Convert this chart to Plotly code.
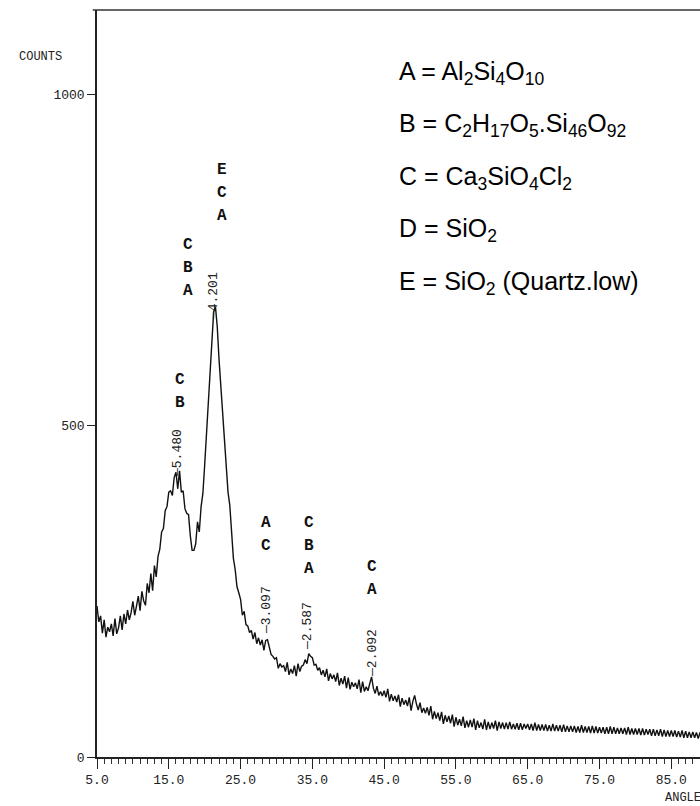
import plotly.graph_objects as go

# ---------------- data ----------------
angle_start = 5.0
angle_step = 0.25
counts = [
    228, 204, 213, 187,   # 5
    207, 181, 196, 189,   # 6
    201, 183, 209, 186,   # 7
    195, 213, 192, 216,   # 8
    201, 222, 207, 218,   # 9
    235, 214, 228, 243,   # 10
    221, 250, 236, 229,   # 11
    262, 248, 277, 251,   # 12
    289, 272, 303, 314,   # 13
    340, 345, 372, 378,   # 14
    400, 402, 395, 422,   # 15
    430, 405, 432, 400,   # 16
    402, 375, 368, 366,   # 17
    334, 312, 312, 322,   # 18
    355, 340, 378, 398,   # 19
    441, 491, 531, 581,   # 20
    630, 672, 680, 650,   # 21
    600, 560, 520, 470,   # 22
    430, 400, 380, 345,   # 23
    300, 283, 257, 248,   # 24
    238, 214, 220, 200,   # 25
    198, 188, 191, 178,   # 26
    188, 171, 180, 169,   # 27
    177, 161, 176, 177,   # 28
    163, 155, 152, 148,   # 29
    150, 134, 141, 136,   # 30
    138, 129, 143, 124,   # 31
    133, 126, 138, 122,   # 32
    141, 129, 137, 139,   # 33
    147, 141, 156, 152,   # 34
    150, 139, 140, 131,   # 35
    135, 124, 131, 121,   # 36
    133, 115, 126, 118,   # 37
    124, 114, 127, 108,   # 38
    119, 110, 122, 104,   # 39
    120, 102, 113, 106,   # 40
    112, 103, 117, 97,    # 41
    114, 99, 106, 100,    # 42
    111, 121, 104, 96,    # 43
    107, 93, 99, 92,      # 44
    100, 90, 103, 84,     # 45
    95, 85, 92, 83,       # 46
    94, 76, 89, 79,       # 47
    86, 77, 90, 70,       # 48
    84, 93, 80, 71,       # 49
    82, 67, 74, 66,       # 50
    75, 63, 77, 57,       # 51
    69, 58, 67, 55,       # 52
    68, 50, 63, 53,       # 53
    62, 51, 64, 46,       # 54
    60, 48, 57, 47,       # 55
    61, 44, 55, 45,       # 56
    56, 45, 58, 41,       # 57
    55, 44, 52, 42,       # 58
    57, 41, 53, 42,       # 59
    52, 43, 55, 40,       # 60
    53, 43, 52, 42,       # 61
    52, 42, 53, 42,       # 62
    50, 42, 51, 41,       # 63
    51, 41, 50, 43,       # 64
    50, 41, 50, 40,       # 65
    52, 40, 49, 40,       # 66
    49, 40, 49, 39,       # 67
    48, 39, 50, 39,       # 68
    48, 39, 48, 38,       # 69
    49, 38, 47, 38,       # 70
    47, 38, 47, 37,       # 71
    46, 37, 48, 37,       # 72
    46, 37, 46, 36,       # 73
    47, 36, 46, 36,       # 74
    45, 36, 45, 35,       # 75
    45, 35, 46, 35,       # 76
    45, 35, 44, 35,       # 77
    44, 35, 44, 34,       # 78
    45, 34, 43, 34,       # 79
    43, 34, 43, 33,       # 80
    43, 33, 42, 34,       # 81
    42, 32, 42, 32,       # 82
    41, 32, 42, 31,       # 83
    41, 31, 40, 31,       # 84
    40, 31, 40, 30,       # 85
    39, 30, 40, 29,       # 86
    39, 29, 38, 29,       # 87
    38, 29, 37, 28,       # 88
    37, 28, 36, 27,       # 89
]
angles = [angle_start + i * angle_step for i in range(len(counts))]

x_tick_vals = [5, 15, 25, 35, 45, 55, 65, 75, 85]
x_tick_text = ["5.0", "15.0", "25.0", "35.0", "45.0", "55.0", "65.0", "75.0", "85.0"]
y_tick_vals = [0, 500, 1000]
y_tick_text = ["0", "500", "1000"]

# d-spacing labels at peaks
d_labels = ["5.480", "4.201", "3.097", "2.587", "2.092"]
d_angles = [16.14, 21.16, 28.7, 34.4, 43.3]
d_label_counts = [459, 696, 222, 198, 157]

# phase letters over peaks
phase_groups = ["CB", "CBA", "ECA", "AC", "CBA", "CA"]
phase_angles = [16.6, 17.7, 22.4, 28.5, 34.5, 43.3]
phase_top_counts = [570, 773, 887, 353, 353, 287]

legend_lines = [
    "A = Al<sub>2</sub>Si<sub>4</sub>O<sub>10</sub>",
    "B = C<sub>2</sub>H<sub>17</sub>O<sub>5</sub>.Si<sub>46</sub>O<sub>92</sub>",
    "C = Ca<sub>3</sub>SiO<sub>4</sub>Cl<sub>2</sub>",
    "D = SiO<sub>2</sub>",
    "E = SiO<sub>2</sub> (Quartz.low)",
]

# ---------------- figure ----------------
fig = go.Figure()
fig.add_trace(go.Scatter(x=angles, y=counts, mode="lines",
                         line=dict(color="#111111", width=1.4),
                         showlegend=False, hoverinfo="skip"))

mono = "Liberation Mono"
ann = []
for lab, a, c in zip(d_labels, d_angles, d_label_counts):
    ann.append(dict(x=a, y=c, xref="x", yref="y", text="\u2014" + lab,
                    textangle=-90, showarrow=False,
                    font=dict(family=mono, size=13, color="#222222"),
                    xanchor="center", yanchor="middle"))
for grp, a, c in zip(phase_groups, phase_angles, phase_top_counts):
    for i, ch in enumerate(grp):
        ann.append(dict(x=a, y=c, xref="x", yref="y", text="<b>" + ch + "</b>",
                        yshift=-i * 23, showarrow=False,
                        font=dict(family=mono, size=16, color="#111111"),
                        xanchor="center", yanchor="middle"))
legend_y = [0.9157, 0.846, 0.775, 0.7055, 0.6345]
for t, yy in zip(legend_lines, legend_y):
    ann.append(dict(x=0.4975, y=yy, xref="paper", yref="paper", text=t,
                    showarrow=False, xanchor="left", yanchor="middle",
                    font=dict(family="Liberation Sans", size=25, color="#000000")))
ann.append(dict(x=-0.0945, y=0.937, xref="paper", yref="paper", text="COUNTS",
                showarrow=False, xanchor="center", yanchor="middle",
                font=dict(family=mono, size=12, color="#222222")))
ann.append(dict(x=0.9386, y=-0.0549, xref="paper", yref="paper", text="ANGLE",
                showarrow=False, xanchor="left", yanchor="middle",
                font=dict(family=mono, size=12, color="#222222")))

fig.update_layout(
    width=700, height=806,
    margin=dict(l=97, r=0, t=10, b=49),
    paper_bgcolor="white", plot_bgcolor="white",
    annotations=ann,
    shapes=[dict(type="line", xref="paper", yref="paper", x0=-0.007, x1=1,
                 y0=1, y1=1, line=dict(color="#333333", width=1.5))],
)
fig.update_xaxes(range=[5, 89.0], tickvals=x_tick_vals, ticktext=x_tick_text,
                 showline=True, linecolor="#222222", linewidth=1.5,
                 ticks="outside", ticklen=10, tickwidth=1.2, tickcolor="#222222",
                 minor=dict(dtick=1, tick0=5, ticks="outside", ticklen=5,
                            tickcolor="#333333", tickwidth=1),
                 showgrid=False, zeroline=False,
                 tickfont=dict(family=mono, size=13, color="#222222"))
fig.update_yaxes(range=[0, 1128], tickvals=y_tick_vals, ticktext=y_tick_text,
                 showline=True, linecolor="#222222", linewidth=1.5,
                 ticks="outside", ticklen=8, tickwidth=1.2, tickcolor="#222222",
                 showgrid=False, zeroline=False,
                 tickfont=dict(family=mono, size=13, color="#222222"))

fig.write_html("out.html")
